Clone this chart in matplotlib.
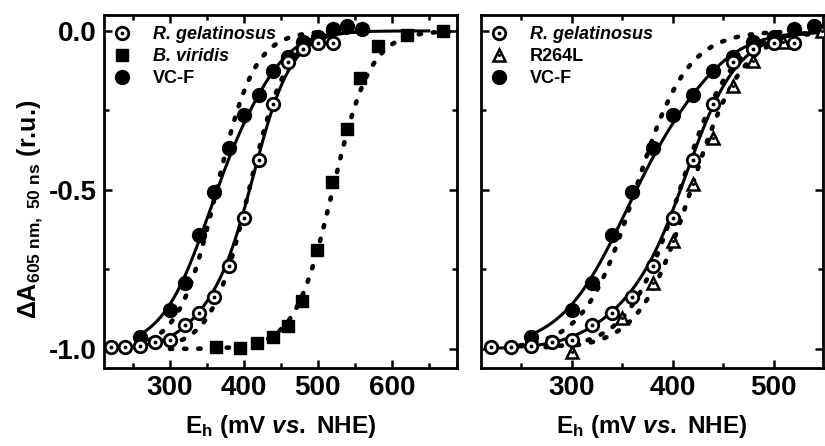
import numpy as np
import matplotlib
matplotlib.use("Agg")
import matplotlib.pyplot as plt
from matplotlib.ticker import MultipleLocator

plt.rcParams["font.family"] = "Liberation Sans"
plt.rcParams["font.weight"] = "bold"
plt.rcParams["axes.unicode_minus"] = False
plt.rcParams["mathtext.fontset"] = "custom"
plt.rcParams["mathtext.rm"] = "Liberation Sans:bold"
plt.rcParams["mathtext.bf"] = "Liberation Sans:bold"
plt.rcParams["mathtext.it"] = "Liberation Sans:bold:italic"

# données (mV vs NHE, amplitude relative)
rgel_E = [220, 240, 260, 280, 300, 320, 340, 360, 380, 400, 420, 440, 460, 480, 500, 520]
rgel_A = [-0.993, -0.993, -0.990, -0.977, -0.973, -0.925, -0.886, -0.836, -0.739, -0.589,
          -0.406, -0.230, -0.097, -0.057, -0.037, -0.037]

vcf_E = [260, 300, 320, 340, 360, 380, 400, 420, 440, 460, 480, 500, 520, 540, 560]
vcf_A = [-0.961, -0.877, -0.793, -0.641, -0.505, -0.367, -0.264, -0.201, -0.125, -0.083,
         -0.034, -0.018, 0.005, 0.014, 0.005]

bvir_E = [362, 395, 418, 440, 459, 479, 499, 519, 539, 557, 581, 621, 669]
bvir_A = [-0.993, -0.998, -0.982, -0.961, -0.928, -0.848, -0.690, -0.474, -0.309, -0.149,
          -0.049, -0.013, 0.0]

r264_E = [300, 350, 380, 400, 420, 440, 460, 480, 509, 548]
r264_A = [-1.01, -0.904, -0.794, -0.660, -0.480, -0.336, -0.172, -0.096, -0.035, 0.0]

# paramètres des ajustements de Nernst : fractions, potentiels moyens, n
rgel_fit_frac = [0.88, 0.12]
rgel_fit_Em = [414, 330]
rgel_fit_n = [1.0, 1.0]
vcf_fit_frac = [0.80, 0.20]
vcf_fit_Em = [350, 430]
vcf_fit_n = [0.8, 1.0]
vcf_dot_Em = 363
rgel_dot_Em = 407
bvir_dot_Em = 520
r264_dot_Em = 418


def nernst(E, fracs, ems, ns=None):
    if ns is None:
        ns = [1.0] * len(fracs)
    ox = sum(f / (1 + 10 ** (n * (em - E) / 59.0)) for f, em, n in zip(fracs, ems, ns))
    return ox - 1


fig = plt.figure(figsize=(8.25, 4.46), dpi=100)
ax1 = fig.add_axes([104 / 825, 78 / 446, 353 / 825, 353 / 446])
ax2 = fig.add_axes([481 / 825, 78 / 446, 342 / 825, 353 / 446])

dot_style = dict(color="black", lw=3.3, ls=(0, (0.5, 2.6)), dash_capstyle="round")
solid_style = dict(color="black", lw=2.2)


def rgel_points(ax):
    ax.plot(rgel_E, rgel_A, "o", ms=9, mfc="white", mec="black", mew=2, zorder=5)
    ax.plot(rgel_E, rgel_A, ".", ms=3.5, color="black", zorder=6)


def vcf_points(ax):
    ax.plot(vcf_E, vcf_A, "o", ms=10, color="black", zorder=4)


# panneau gauche
e = np.linspace(300, 685, 300)
ax1.plot(e, nernst(e, [1], [bvir_dot_Em]), **dot_style)
e = np.linspace(235, 520, 300)
ax1.plot(e, nernst(e, [1], [vcf_dot_Em]), **dot_style)
e = np.linspace(260, 540, 300)
ax1.plot(e, nernst(e, [1], [rgel_dot_Em]), **dot_style)
e = np.linspace(255, 650, 300)
ax1.plot(e, nernst(e, vcf_fit_frac, vcf_fit_Em, vcf_fit_n), **solid_style)
e = np.linspace(215, 560, 300)
ax1.plot(e, nernst(e, rgel_fit_frac, rgel_fit_Em, rgel_fit_n), **solid_style)
vcf_points(ax1)
ax1.plot(bvir_E, bvir_A, "s", ms=8.5, color="black", zorder=4)
rgel_points(ax1)

# panneau droit
e = np.linspace(235, 520, 300)
ax2.plot(e, nernst(e, [1], [vcf_dot_Em]), **dot_style)
e = np.linspace(260, 550, 300)
ax2.plot(e, nernst(e, [1], [rgel_dot_Em]), **dot_style)
e = np.linspace(305, 550, 300)
ax2.plot(e, nernst(e, [1], [r264_dot_Em]), **dot_style)
e = np.linspace(255, 550, 300)
ax2.plot(e, nernst(e, vcf_fit_frac, vcf_fit_Em, vcf_fit_n), **solid_style)
e = np.linspace(215, 550, 300)
ax2.plot(e, nernst(e, rgel_fit_frac, rgel_fit_Em, rgel_fit_n), **solid_style)
vcf_points(ax2)
ax2.plot(r264_E, r264_A, "^", ms=9, mfc="white", mec="black", mew=1.8, zorder=5)
ax2.plot(r264_E, r264_A, ".", ms=2.5, color="black", zorder=6)
rgel_points(ax2)

xlab = "E$_\\mathrm{h}$ (mV $\\mathit{vs.}$ NHE)"
for ax, xlim in ((ax1, (211, 688)), (ax2, (210, 549))):
    ax.set_xlim(*xlim)
    ax.set_ylim(-1.06, 0.05)
    ax.xaxis.set_major_locator(MultipleLocator(100))
    ax.xaxis.set_minor_locator(MultipleLocator(50))
    ax.yaxis.set_major_locator(MultipleLocator(0.5))
    ax.yaxis.set_minor_locator(MultipleLocator(0.25))
    ax.tick_params(which="both", direction="in", top=True, right=True, width=1.8)
    ax.tick_params(which="major", length=6, labelsize=20, pad=5)
    ax.tick_params(which="minor", length=3.5)
    for s in ax.spines.values():
        s.set_linewidth(2)
    ax.set_xlabel(xlab, fontsize=17.5, fontweight="bold", labelpad=9)

ax1.set_yticks([-1.0, -0.5, 0.0])
ax1.set_yticklabels(["-1.0", "-0.5", "0.0"])
ax2.set_yticklabels([])
ax1.set_ylabel("ΔA$_\\mathrm{605\\ nm,\\ 50\\ ns}$ (r.u.)", fontsize=18, fontweight="bold")
ax1.yaxis.set_label_coords(-0.168, 0.45)

# légendes
h_rgel = (ax1.plot([], [], "o", ms=9, mfc="white", mec="black", mew=2)[0],
          ax1.plot([], [], ".", ms=3.5, color="black")[0])
h_bvir = ax1.plot([], [], "s", ms=8.5, color="black")[0]
h_vcf = ax1.plot([], [], "o", ms=10, color="black")[0]
h_r264 = (ax2.plot([], [], "^", ms=9, mfc="white", mec="black", mew=1.8)[0],
          ax2.plot([], [], ".", ms=2.5, color="black")[0])

leg_kw = dict(loc="upper left", frameon=False, fontsize=13, handlelength=1.2,
              handletextpad=1.1, labelspacing=0.28, borderaxespad=0.2,
              bbox_to_anchor=(-0.01, 1.0))
l1 = ax1.legend([h_rgel, h_bvir, h_vcf], ["R. gelatinosus", "B. viridis", "VC-F"], **leg_kw)
l2 = ax2.legend([h_rgel, h_r264, h_vcf], ["R. gelatinosus", "R264L", "VC-F"], **leg_kw)
for leg in (l1, l2):
    for t in leg.get_texts():
        t.set_fontweight("bold")
    leg.get_texts()[0].set_fontstyle("italic")
l1.get_texts()[1].set_fontstyle("italic")

fig.savefig("out.png", dpi=100)
